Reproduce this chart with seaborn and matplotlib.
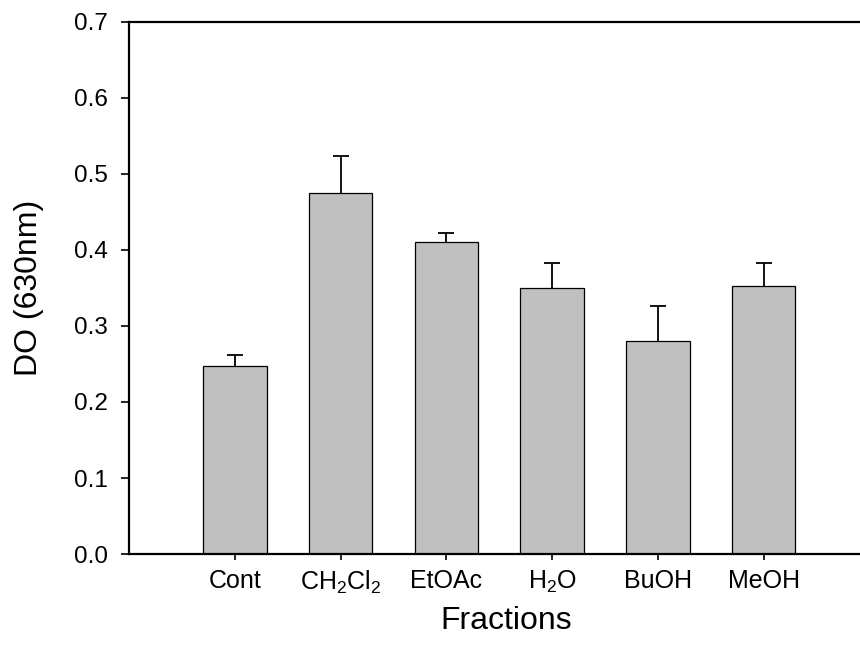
import matplotlib
matplotlib.use("Agg")
import matplotlib.pyplot as plt
import seaborn as sns
import numpy as np
import pandas as pd

# Absorbance at 630 nm for each extraction fraction (mean and upper SD)
fractions = ["Cont", r"CH$_2$Cl$_2$", "EtOAc", r"H$_2$O", "BuOH", "MeOH"]
do_mean = [0.247, 0.475, 0.410, 0.350, 0.280, 0.352]
do_sd = [0.015, 0.049, 0.013, 0.033, 0.046, 0.031]
y_ticks = [0.0, 0.1, 0.2, 0.3, 0.4, 0.5, 0.6, 0.7]

sns.set_theme(style="ticks")
plt.rcParams["font.family"] = ["Liberation Sans", "DejaVu Sans"]
plt.rcParams["mathtext.fontset"] = "custom"
plt.rcParams["mathtext.rm"] = "Liberation Sans"
plt.rcParams["mathtext.it"] = "Liberation Sans"
plt.rcParams["mathtext.bf"] = "Liberation Sans"

df = pd.DataFrame({"fraction": fractions, "do": do_mean, "sd": do_sd})

fig = plt.figure(figsize=(8.6, 6.46), dpi=100)
ax = fig.add_axes([0.15, 0.1424, 0.877, 0.8236])

sns.barplot(data=df, x="fraction", y="do", color="#c0c0c0", saturation=1,
            edgecolor="black", linewidth=0.9, width=0.6, errorbar=None, ax=ax)

# upper-only error bars: keep just the top cap
xpos = np.arange(len(fractions))
_, caps, _ = ax.errorbar(xpos, df["do"], yerr=[np.zeros(len(fractions)), df["sd"]],
                         fmt="none", ecolor="black", elinewidth=1.3, capsize=6,
                         capthick=1.3, zorder=1)
caps[0].remove()

ax.set_xlim(-1.0, 6.13)
ax.set_ylim(0, 0.7)
ax.set_yticks(y_ticks)
ax.set_yticklabels([f"{v:.1f}" for v in y_ticks])

for s in ax.spines.values():
    s.set_linewidth(1.6)
    s.set_color("black")

ax.tick_params(axis="y", direction="out", length=6, width=1.2, pad=9,
               labelsize=17.5, colors="black")
ax.tick_params(axis="x", direction="out", length=4.5, width=1.2, pad=6,
               labelsize=18, colors="black")

ax.set_xlabel("Fractions", fontsize=23, labelpad=7, color="black")
ax.set_ylabel("DO (630nm)", fontsize=23, labelpad=22, color="black")

fig.savefig("out.png", dpi=100, facecolor="white")
